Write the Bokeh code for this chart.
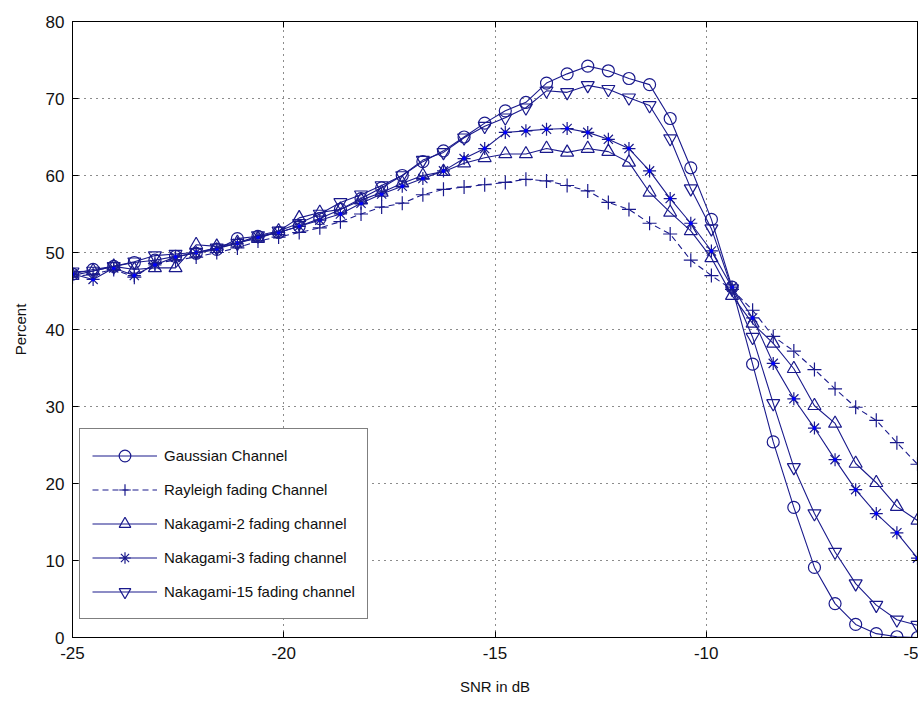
import numpy as np
from bokeh.plotting import figure
from bokeh.models import (Range1d, FixedTicker, LinearAxis, Legend, LegendItem)
from bokeh.embed import file_html
from bokeh.resources import INLINE

# ---------------- data ----------------
snr_db = np.linspace(-25, -5, 42)

gaussian = [47.2, 47.8, 48.2, 48.7, 49.0, 49.5, 49.9, 50.4, 51.8, 52.1,
            52.6, 53.4, 54.4, 55.6, 57.0, 58.4, 60.0, 61.8, 63.2, 65.0,
            66.8, 68.4, 69.5, 72.0, 73.2, 74.2, 73.6, 72.6, 71.8, 67.4,
            61.0, 54.3, 45.5, 35.5, 25.4, 16.9, 9.1, 4.4, 1.7, 0.5,
            0.1, 0.0]

rayleigh = [46.8, 47.2, 47.8, 46.8, 48.6, 49.0, 49.4, 50.0, 50.6, 51.5,
            52.0, 52.6, 53.2, 54.0, 55.0, 55.9, 56.4, 57.5, 58.2, 58.5,
            58.8, 59.1, 59.5, 59.3, 58.7, 58.0, 56.5, 55.6, 53.8, 52.4,
            49.0, 47.0, 45.2, 42.5, 39.1, 37.2, 34.8, 32.3, 29.9, 28.2,
            25.3, 22.5]

nakagami2 = [47.0, 47.6, 48.2, 47.8, 48.0, 48.0, 51.0, 50.8, 51.3, 51.8,
             52.8, 54.5, 55.2, 55.6, 56.8, 57.8, 59.0, 60.0, 60.5, 61.6,
             62.3, 62.8, 62.8, 63.5, 63.0, 63.5, 63.1, 61.7, 57.8, 55.2,
             52.8, 49.3, 44.4, 40.8, 38.2, 34.9, 30.1, 27.8, 22.6, 20.1,
             17.0, 15.2]

nakagami3 = [47.2, 46.5, 48.0, 47.0, 48.4, 49.4, 50.0, 50.5, 51.2, 52.0,
             52.6, 53.4, 54.2, 55.0, 56.4, 57.6, 58.6, 59.6, 60.6, 62.2,
             63.5, 65.6, 65.8, 66.0, 66.1, 65.6, 64.7, 63.5, 60.6, 57.0,
             53.8, 50.2, 45.5, 41.5, 35.6, 31.0, 27.2, 23.1, 19.2, 16.1,
             13.6, 10.3]

nakagami15 = [47.5, 47.6, 48.2, 48.8, 49.6, 49.8, 50.0, 50.6, 51.2, 52.2,
              52.8, 53.8, 55.0, 56.5, 57.5, 58.7, 60.0, 62.0, 63.0, 64.9,
              66.4, 67.5, 68.8, 71.0, 70.8, 71.7, 71.2, 70.1, 69.1, 64.8,
              58.3, 53.1, 45.3, 39.0, 30.4, 22.1, 16.1, 11.1, 7.0, 4.2,
              2.3, 1.6]

series_labels = ["Gaussian Channel", "Rayleigh fading Channel",
                 "Nakagami-2 fading channel", "Nakagami-3 fading channel",
                 "Nakagami-15 fading channel"]

x_ticks = [-25, -20, -15, -10, -5]
x_tick_labels = ["-25", "-20", "-15", "-10", "-5"]
y_ticks = [0, 10, 20, 30, 40, 50, 60, 70, 80]

# ---------------- figure ----------------
FONT = "Liberation Sans"
LINE = "#1a1a8c"

p = figure(width=918, height=704, output_backend="svg", toolbar_location=None,
           x_range=Range1d(-25, -5), y_range=Range1d(0, 80),
           min_border_left=72, min_border_right=1, min_border_top=21,
           min_border_bottom=67)
p.background_fill_color = "white"
p.border_fill_color = "white"
p.outline_line_color = "black"
p.outline_line_width = 1

xt = FixedTicker(ticks=x_ticks)
yt = FixedTicker(ticks=y_ticks)
p.xaxis.ticker = xt
p.yaxis.ticker = yt
p.xgrid.ticker = xt
p.ygrid.ticker = yt
p.xaxis.major_label_overrides = dict(zip(x_ticks, x_tick_labels))

for g in (p.xgrid, p.ygrid):
    g.grid_line_color = "black"
    g.grid_line_dash = "1 5"
    g.grid_line_width = 1
    g.grid_line_alpha = 0.9

for ax in (p.xaxis, p.yaxis):
    ax.axis_line_color = "black"
    ax.major_tick_in = 6
    ax.major_tick_out = 0
    ax.minor_tick_in = 0
    ax.minor_tick_out = 0
    ax.major_tick_line_color = "black"
    ax.major_label_text_font = FONT
    ax.major_label_text_font_size = "17px"
    ax.major_label_text_color = "#111111"
    ax.axis_label_text_font = FONT
    ax.axis_label_text_font_size = "15px"
    ax.axis_label_text_font_style = "normal"
    ax.axis_label_text_color = "#111111"

p.xaxis.axis_label = "SNR in dB"
p.yaxis.axis_label = "Percent"
p.xaxis.major_label_standoff = 9
p.xaxis.axis_label_standoff = 16
p.yaxis.major_label_standoff = 8
p.yaxis.axis_label_standoff = 14

# right and top tick-only axes (MATLAB box)
right_ax = LinearAxis(ticker=yt, major_tick_in=6, major_tick_out=0,
                      minor_tick_in=0, minor_tick_out=0,
                      major_label_overrides={t: "" for t in y_ticks},
                      major_label_standoff=0, axis_line_color="black")
top_ax = LinearAxis(ticker=xt, major_tick_in=6, major_tick_out=0,
                    minor_tick_in=0, minor_tick_out=0,
                    major_label_overrides={t: "" for t in x_ticks},
                    major_label_standoff=0, axis_line_color="black")
p.add_layout(right_ax, "right")
p.add_layout(top_ax, "above")

# ---------------- series ----------------
specs = [
    (gaussian, "circle", 12, "solid"),
    (rayleigh, "cross", 14, "6 4"),
    (nakagami2, "triangle", 13, "solid"),
    (nakagami3, "asterisk", 13, "solid"),
    (nakagami15, "inverted_triangle", 13, "solid"),
]

items = []
for (ys, marker, size, dash), label in zip(specs, series_labels):
    rl = p.line(snr_db, ys, line_color=LINE, line_width=1.1, line_dash=dash)
    rs = p.scatter(snr_db, ys, marker=marker, size=size, line_color=LINE,
                   line_width=1.2, fill_color=None)
    if marker == "asterisk":
        p.scatter(snr_db, ys, marker="circle", size=4, line_color=None,
                  fill_color="#0000ff")
    items.append(LegendItem(label=label, renderers=[rl, rs]))

legend = Legend(items=items, location=(7, 18))
legend.label_text_font = FONT
legend.label_text_font_size = "15px"
legend.label_text_color = "#111111"
legend.glyph_width = 65
legend.glyph_height = 29
legend.label_height = 29
legend.spacing = 5
legend.padding = 12
legend.margin = 0
legend.label_standoff = 7
legend.border_line_color = "black"
legend.border_line_width = 1
legend.background_fill_color = "white"
legend.background_fill_alpha = 1
p.add_layout(legend, "center")

open("out.html", "w").write(file_html(p, INLINE))
